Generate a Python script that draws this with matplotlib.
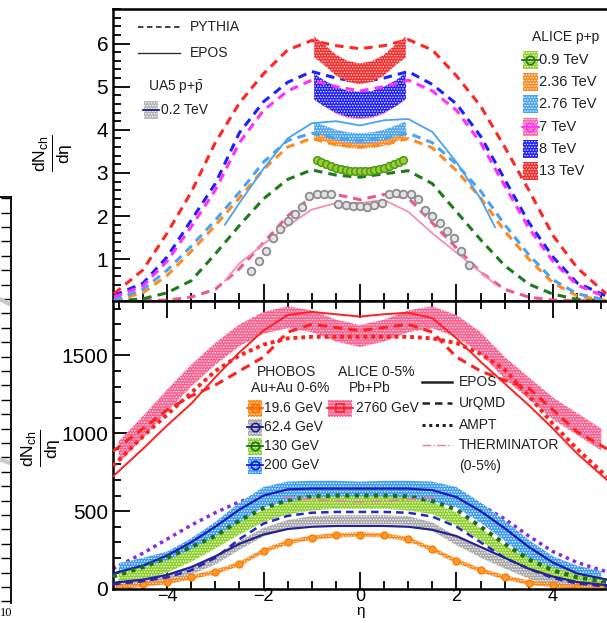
import numpy as np
import matplotlib
matplotlib.use('Agg')
import matplotlib.pyplot as plt
from matplotlib.patches import Rectangle
from matplotlib.lines import Line2D
from matplotlib.ticker import MultipleLocator

plt.rcParams['font.family'] = ['Liberation Sans', 'DejaVu Sans']
plt.rcParams['mathtext.fontset'] = 'custom'
plt.rcParams['mathtext.rm'] = 'Liberation Sans'
plt.rcParams['mathtext.it'] = 'Liberation Sans:italic'
plt.rcParams['mathtext.bf'] = 'Liberation Sans:bold'
plt.rcParams['hatch.linewidth'] = 0.6

# ---------------- p+p data (top panel) ----------------
eta_pp = [-5.1, -4.5, -4, -3.5, -3, -2.5, -2, -1.5, -1, -0.5, 0, 0.5, 1, 1.5, 2, 2.5, 3, 3.5, 4, 4.5, 5.1]
py13 = [0.2, 0.75, 1.6, 2.55, 3.7, 4.62, 5.3, 5.85, 6.07, 5.95, 5.88, 5.95, 6.09, 5.85, 5.25, 4.55, 3.6, 2.6, 1.55, 0.8, 0.2]
py8 = [0.16, 0.44, 1.05, 1.9, 2.75, 3.93, 4.65, 5.1, 5.35, 5.2, 5.1, 5.2, 5.35, 5.05, 4.6, 3.85, 2.85, 1.85, 1.05, 0.45, 0.15]
py7 = [0.12, 0.38, 0.95, 1.75, 2.6, 3.7, 4.45, 4.9, 5.15, 5.0, 4.9, 5.0, 5.15, 4.9, 4.45, 3.7, 2.7, 1.72, 0.95, 0.4, 0.12]
py276 = [0.05, 0.3, 0.74, 1.3, 1.9, 2.55, 3.25, 3.75, 3.92, 3.8, 3.75, 3.8, 3.92, 3.7, 3.2, 2.58, 1.8, 1.1, 0.52, 0.2, 0.05]
py236 = [0.04, 0.22, 0.62, 1.18, 1.78, 2.42, 3.08, 3.6, 3.8, 3.65, 3.6, 3.65, 3.8, 3.58, 3.05, 2.42, 1.65, 1.0, 0.45, 0.15, 0.04]
py09 = [0.03, 0.08, 0.22, 0.5, 1.12, 1.78, 2.4, 2.85, 3.07, 2.95, 2.9, 2.98, 3.05, 2.75, 2.1, 1.45, 0.85, 0.42, 0.19, 0.07, 0.03]
py02 = [0.03, 0.04, 0.05, 0.12, 0.3, 0.78, 1.38, 2.0, 2.45, 2.5, 2.38, 2.5, 2.42, 1.84, 1.26, 0.7, 0.3, 0.12, 0.05, 0.04, 0.03]

eta_epos = [-2.8, -2.5, -2, -1.5, -1, -0.5, 0, 0.5, 1, 1.5, 2, 2.5, 2.8]
ep276 = [1.8, 2.3, 3.1, 3.8, 4.15, 4.2, 4.1, 4.22, 4.25, 3.95, 3.25, 2.4, 1.74]
ep02 = [0.5, 0.9, 1.35, 1.77, 2.15, 2.3, 2.3, 2.37, 2.1, 1.6, 1.15, 0.7, 0.42]

eta_alice = [-0.95, -0.75, -0.5, -0.25, 0, 0.25, 0.5, 0.75, 0.95]
a13 = [5.92, 5.75, 5.5, 5.35, 5.3, 5.35, 5.5, 5.75, 5.92]
a8 = [5.0, 4.85, 4.7, 4.6, 4.58, 4.6, 4.7, 4.85, 5.02]
a7 = [4.95, 4.8, 4.62, 4.52, 4.5, 4.52, 4.62, 4.8, 4.95]
a276 = [4.07, 3.98, 3.88, 3.82, 3.8, 3.82, 3.88, 3.98, 4.07]
a236 = [3.95, 3.85, 3.75, 3.7, 3.68, 3.7, 3.75, 3.85, 3.95]

eta_09 = [-0.9, -0.8, -0.7, -0.6, -0.5, -0.4, -0.3, -0.2, -0.1, 0, 0.1, 0.2, 0.3, 0.4, 0.5, 0.6, 0.7, 0.8, 0.9]
a09 = [3.3, 3.26, 3.2, 3.16, 3.12, 3.09, 3.07, 3.05, 3.04, 3.04, 3.04, 3.05, 3.07, 3.09, 3.12, 3.16, 3.2, 3.26, 3.3]

eta_ua5 = [-2.25, -2.1, -1.95, -1.8, -1.65, -1.5, -1.35, -1.2, -1.05, -0.9, -0.75, -0.6, -0.45, -0.3, -0.15, 0,
           0.15, 0.3, 0.45, 0.6, 0.75, 0.9, 1.05, 1.2, 1.35, 1.5, 1.65, 1.8, 1.95, 2.1, 2.25]
ua5 = [0.72, 0.95, 1.2, 1.5, 1.7, 1.88, 2.05, 2.2, 2.47, 2.5, 2.52, 2.5, 2.28, 2.25, 2.24, 2.24,
       2.22, 2.25, 2.3, 2.5, 2.53, 2.52, 2.5, 2.4, 2.15, 2.0, 1.84, 1.65, 1.5, 1.2, 0.86]

# ---------------- A+A data (bottom panel) ----------------
eta_aa = [-5, -4.5, -4, -3.5, -3, -2.5, -2, -1.5, -1, -0.5, 0, 0.5, 1, 1.5, 2, 2.5, 3, 3.5, 4, 4.5, 5]
pbpb = [880, 1040, 1210, 1370, 1510, 1630, 1710, 1745, 1720, 1660, 1625, 1660, 1720, 1745, 1690, 1580, 1420, 1290, 1160, 1060, 960]
au200 = [100, 135, 175, 260, 365, 490, 590, 625, 630, 630, 625, 630, 630, 625, 590, 490, 375, 250, 145, 85, 50]
au130 = [70, 100, 145, 215, 300, 390, 470, 520, 545, 555, 555, 555, 545, 520, 450, 350, 240, 160, 100, 65, 40]
au62 = [25, 45, 70, 120, 185, 280, 365, 415, 440, 445, 445, 445, 440, 400, 310, 230, 160, 95, 45, 20, 10]
au19 = [10, 30, 45, 75, 110, 160, 245, 300, 330, 345, 350, 345, 320, 255, 180, 120, 75, 40, 25, 12, 5]

eta_mod = [-5.12, -4.5, -4, -3.5, -3, -2.5, -2, -1.5, -1, -0.5, 0, 0.5, 1, 1.5, 2, 2.5, 3, 3.5, 4, 4.5, 5.12]
epos_pb = [723, 900, 1050, 1190, 1360, 1520, 1660, 1760, 1780, 1765, 1750, 1765, 1775, 1740, 1610, 1460, 1320, 1180, 1030, 870, 700]
urqmd_pb = [885, 1030, 1150, 1240, 1310, 1400, 1490, 1650, 1700, 1680, 1660, 1680, 1700, 1650, 1490, 1400, 1340, 1290, 1150, 1010, 900]
ampt_pb = [790, 980, 1120, 1260, 1400, 1500, 1570, 1610, 1620, 1620, 1620, 1620, 1620, 1610, 1580, 1510, 1410, 1240, 1060, 900, 720]
epos200 = [100, 150, 215, 300, 400, 510, 600, 640, 645, 645, 645, 645, 645, 635, 590, 500, 390, 270, 170, 100, 60]
ampt200 = [130, 230, 320, 410, 490, 560, 610, 640, 650, 650, 650, 650, 650, 640, 600, 540, 450, 340, 240, 170, 110]
dots130 = [80, 140, 200, 270, 340, 440, 520, 570, 595, 600, 600, 600, 595, 565, 510, 400, 290, 190, 120, 75, 45]
urqmd62 = [30, 50, 75, 120, 200, 320, 420, 470, 490, 495, 495, 495, 490, 465, 400, 300, 200, 130, 70, 35, 15]
epos62 = [40, 60, 90, 140, 210, 290, 350, 385, 400, 405, 405, 405, 400, 380, 340, 270, 200, 130, 80, 45, 25]

eta_therm = [-1.6, -1, -0.5, 0, 0.5, 1, 1.6]
therm = [590, 575, 565, 560, 565, 575, 590]

# neighbouring panel edge (left)
left_x1 = [0.75, 1.0]
left_y1 = [10.5, 9.6]
left_y2 = [22.0, 20.6]

W, H = 607, 623


def fx(x):
    return x / W


def fy(y):
    return 1 - y / H


def band(ax, x, y, e, color, z=2.0):
    y = np.asarray(y, dtype=float)
    ax.fill_between(x, y - e, y + e, facecolor=color, edgecolor='white',
                    hatch='......', linewidth=0, zorder=z)


fig = plt.figure(figsize=(6.07, 6.23), dpi=100)
ax_top = fig.add_axes([fx(113), fy(301), 1 - fx(113), fy(9) - fy(301)])
ax_bot = fig.add_axes([fx(113), fy(589), 1 - fx(113), fy(301) - fy(589)])
ax_left = fig.add_axes([-0.25, fy(603), 0.25 + fx(11), fy(197) - fy(603)])

# colours
c13 = '#ff2626'
c8 = '#1f1fff'
c7 = '#ff66a8'
c7l = '#ff30ff'
c276 = '#4aa3f2'
c236 = '#ff8a1f'
c09 = '#9ccc2f'
c09d = '#1d7a1d'
cpink = '#f2578c'
cepink = '#f78fb3'

# ---------------- top panel ----------------
ax = ax_top
dash = dict(linestyle=(0, (2.8, 2.0)), linewidth=2.2)
ax.plot(eta_pp, py02, color=cpink, zorder=3, **dash)
ax.plot(eta_epos, ep02, color=cepink, lw=1.3, zorder=3)
ax.plot(eta_ua5, ua5, 'o', ms=5.5, mfc='#e4e4e4', mec='#8c8c8c', mew=1.3, zorder=4)
ax.plot(eta_pp, py09, color=c09d, zorder=3, **dash)
ax.plot(eta_09, a09, 'o', ms=5.5, mfc=c09, mec='#4d9a1a', mew=1.1, zorder=4)
band(ax, eta_alice, a236, 0.12, c236, 2.0)
ax.plot(eta_pp, py236, color=c236, zorder=3, **dash)
band(ax, eta_alice, a276, 0.12, c276, 3.1)
ax.plot(eta_pp, py276, color=c276, zorder=3.2, **dash)
ax.plot(eta_epos, ep276, color=c276, lw=1.3, zorder=3.2)
band(ax, eta_alice, a7, 0.25, c7, 2.0)
band(ax, eta_alice, a8, 0.3, c8, 2.1)
ax.plot(eta_pp, py8, color=c8, zorder=3, **dash)
ax.plot(eta_pp, py7, color=c7l, zorder=3.3, **dash)
ax.plot(eta_pp, py13, color=c13, zorder=3, **dash)
band(ax, eta_alice, a13, 0.24, c13, 3.5)

ax.set_xlim(-5.12, 5.12)
ax.set_ylim(0.03, 6.8)
ax.set_yticks([1, 2, 3, 4, 5, 6])
ax.yaxis.set_minor_locator(MultipleLocator(0.2))
ax.set_xticks([-4, -2, 0, 2, 4])
ax.xaxis.set_minor_locator(MultipleLocator(0.5))
ax.tick_params(axis='x', labelbottom=False)

# ---------------- bottom panel ----------------
ax = ax_bot
ax.plot(eta_mod, ampt200, color='#8a2be2', linestyle=(0, (1, 1.2)), lw=2.5, zorder=1.5)
band(ax, eta_aa, au200, 65, '#3a9cf5', 2.0)
band(ax, eta_aa, au130, 40, '#8fd12b', 2.1)
band(ax, eta_aa, au62, 28, '#a8a8a8', 2.2)
band(ax, eta_aa, au19, 14, '#ff8412', 2.3)
ax.plot(eta_aa, au19, 'o', ms=5, mfc='#ff9a30', mec='#ff7a00', mew=1, zorder=2.4)
band(ax, eta_aa, pbpb, 70, '#ff5c8d', 2.0)

ax.plot(eta_mod, epos200, color='#1a1ab4', lw=1.6, zorder=3)
ax.plot(eta_mod, dots130, color='#1e6e1e', linestyle=(0, (1, 1.3)), lw=3, zorder=3)
ax.plot(eta_mod, urqmd62, color='#2626c8', linestyle=(0, (3, 2)), lw=1.8, zorder=3)
ax.plot(eta_mod, epos62, color='#24248c', lw=1.6, zorder=3)
ax.plot(eta_therm, therm, color='#f07aa0', linestyle='-.', lw=1.2, zorder=3)

ax.plot(eta_mod, epos_pb, color='#ff2020', lw=1.4, zorder=3)
ax.plot(eta_mod, urqmd_pb, color='#ff2020', linestyle=(0, (3, 2)), lw=2.2, zorder=3)
ax.plot(eta_mod, ampt_pb, color='#ff2020', linestyle=(0, (1, 1)), lw=2.8, zorder=3)

ax.set_xlim(-5.12, 5.12)
ax.set_ylim(0, 1850)
ax.set_yticks([0, 500, 1000, 1500])
ax.yaxis.set_minor_locator(MultipleLocator(100))
ax.set_xticks([-4, -2, 0, 2, 4])
ax.set_xticklabels(['\u22124', '\u22122', '0', '2', '4'])
ax.xaxis.set_minor_locator(MultipleLocator(0.5))

for a in (ax_top, ax_bot):
    a.spines['right'].set_visible(False)
    for s in ('left', 'top', 'bottom'):
        a.spines[s].set_linewidth(1.8)
    a.tick_params(which='both', direction='in', labelsize=15, width=1.3)
    a.tick_params(which='major', length=12)
    a.tick_params(which='minor', length=6)
ax_bot.tick_params(which='both', top=True)
ax_bot.tick_params(axis='x', pad=-1, labelsize=13)

# axis titles
fig.text(fx(361), fy(612), r'$\mathrm{\eta}$', fontsize=11, ha='center', va='center')
ylab = r'$\frac{\mathrm{dN_{ch}}}{\mathrm{d\eta}}$'
fig.text(fx(52), fy(153), ylab, rotation=90, fontsize=18, ha='center', va='center')
fig.text(fx(40), fy(448), ylab, rotation=90, fontsize=18, ha='center', va='center')

# ---------------- left neighbour panel ----------------
ax = ax_left
ax.plot(left_x1, left_y1, color='#c8c8c8', lw=3)
ax.plot(left_x1, left_y2, color='#c8c8c8', lw=3)
ax.set_xlim(0, 1)
ax.set_ylim(-0.11, 28.08)
ax.yaxis.set_major_locator(MultipleLocator(1))
ax.set_xticks([])
ax.tick_params(axis='y', left=False, right=True, direction='in', length=7,
               labelleft=False, width=1)
for s in ('left', 'bottom'):
    ax.spines[s].set_visible(False)
ax.spines['right'].set_linewidth(1.3)
ax.spines['top'].set_linewidth(1.3)
fig.text(fx(0), fy(613), '10', fontsize=9, family='Liberation Serif', ha='left', va='center')


# ---------------- legends (drawn in figure pixels) ----------------
def fline(x0, x1, y, **kw):
    fig.add_artist(Line2D([fx(x0), fx(x1)], [fy(y), fy(y)], transform=fig.transFigure, **kw))


def swatch(xc, yc, w, h, color, mark=None, mcol=None, lcol=None, mfc='none'):
    fig.add_artist(Rectangle((fx(xc - w / 2), fy(yc + h / 2)), w / W, h / H,
                             transform=fig.transFigure, facecolor=color,
                             edgecolor='white', hatch='......', linewidth=0))
    if lcol is not None:
        fline(xc - w / 2 - 1, xc + w / 2 + 1, yc, color=lcol, lw=1.3)
    if mark is not None:
        fig.add_artist(Line2D([fx(xc)], [fy(yc)], marker=mark, ms=6, mfc=mfc, mec=mcol,
                              mew=1.2, transform=fig.transFigure))


def ftext(x, y, s, size=10, ha='left'):
    fig.text(fx(x), fy(y), s, fontsize=size, ha=ha, va='center', color='#222222')


fline(138, 180, 27, color='#333333', linestyle=(0, (3, 2)), lw=1.3)
ftext(190, 27, 'PYTHIA')
fline(138, 180, 53, color='#333333', lw=1.0)
ftext(190, 53, 'EPOS')
ftext(148, 87, r'UA5 p+$\bar{\mathrm{p}}$')
swatch(151, 110, 14, 17, '#b5b5b5', lcol='#1a1a8c')
ftext(161, 110, '0.2 TeV')

ftext(532, 37, 'ALICE p+p')
pp_leg = [('0.9 TeV', c09, 'o', c09d, c09d), ('2.36 TeV', c236, None, None, None),
          ('2.76 TeV', c276, None, None, None), ('7 TeV', c7, 'o', c7l, c7l),
          ('8 TeV', c8, None, None, None), ('13 TeV', c13, None, None, None)]
for i, (lab, col, mk, mc, lc) in enumerate(pp_leg):
    yc = 60 + i * 22.2
    swatch(530, yc, 15, 18, col, mark=mk, mcol=mc, lcol=lc)
    ftext(539, yc, lab, size=10.5)

ftext(287, 372, 'PHOBOS', ha='center')
ftext(290, 388, 'Au+Au 0-6%', ha='center')
ftext(376, 372, 'ALICE 0-5%', ha='center')
ftext(370, 388, 'Pb+Pb', ha='center')
aa_leg = [('19.6 GeV', '#ff8412', '#ff6a00'), ('62.4 GeV', '#a8a8a8', '#1a1a8c'),
          ('130 GeV', '#8fd12b', '#1e6e1e'), ('200 GeV', '#3a9cf5', '#1a1ad0')]
for i, (lab, col, mc) in enumerate(aa_leg):
    yc = 408 + i * 19
    swatch(255, yc, 14, 17, col, mark='o', mcol=mc, lcol=mc)
    ftext(264, yc, lab)
swatch(340, 408, 24, 17, '#ff5c8d', mark='s', mcol='#ff2020', lcol='#ff2020')
ftext(356, 408, '2760 GeV')

fline(422, 452, 382, color='#222222', lw=1.8)
ftext(459, 382, 'EPOS')
fline(422, 452, 403, color='#222222', linestyle=(0, (3, 2)), lw=1.8)
ftext(459, 403, 'UrQMD')
fline(422, 452, 425, color='#222222', linestyle=(0, (1, 1.2)), lw=2.2)
ftext(459, 425, 'AMPT')
fline(422, 452, 445, color='#f07aa0', linestyle='-.', lw=1.0)
ftext(459, 445, 'THERMINATOR')
ftext(459, 466, '(0-5%)')

fig.savefig('out.png', dpi=100)
